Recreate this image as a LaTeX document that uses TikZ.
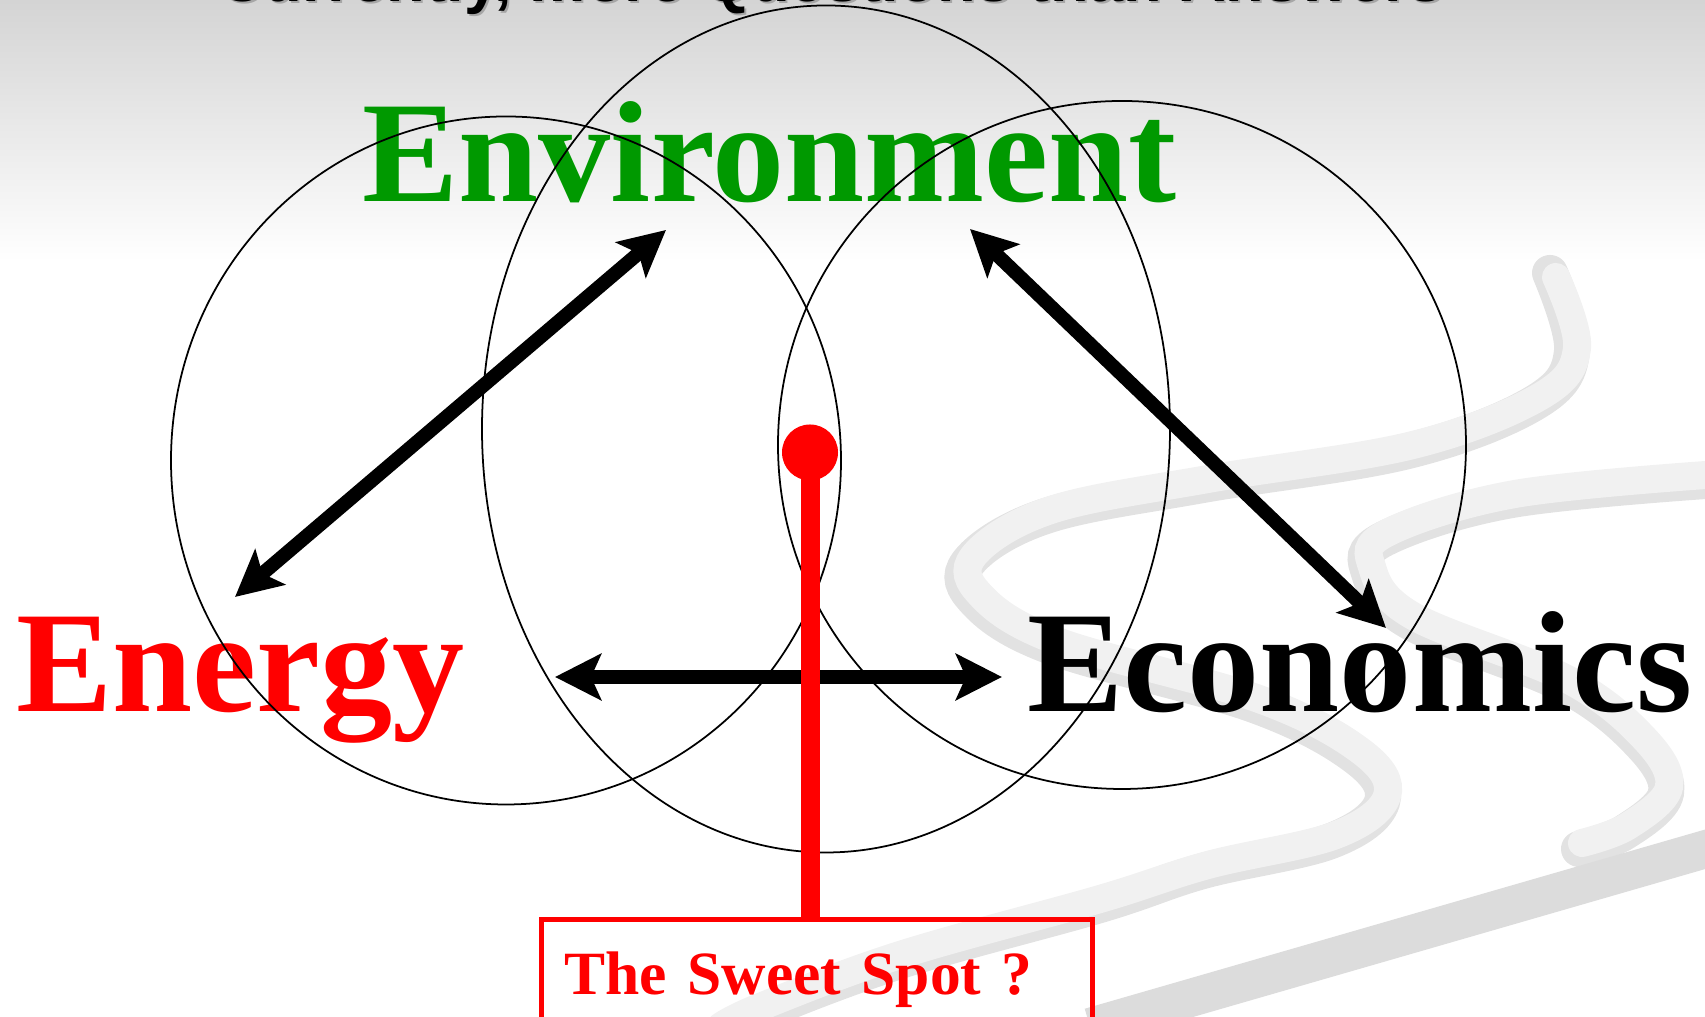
\documentclass[tikz,border=0pt]{standalone}
\usepackage{fontspec}
\setmainfont{Liberation Serif}
\newfontfamily\headfont{Liberation Sans}
\usetikzlibrary{arrows.meta,positioning}
\definecolor{leafgreen}{HTML}{009900}
\definecolor{hotred}{HTML}{FF0000}
\definecolor{topgray}{HTML}{D4D4D4}
\definecolor{swirlface}{HTML}{F1F1F1}
\definecolor{swirledge}{HTML}{E2E2E2}
\definecolor{swirlband}{HTML}{DCDCDC}

\begin{document}
\begin{tikzpicture}[
 ring/.style={draw=black,line width=0.5pt},
 link/.style={line width=0.14cm,{Stealth[length=0.46cm,width=0.46cm,inset=0.1cm]}-{Stealth[length=0.46cm,width=0.46cm,inset=0.1cm]}},
 word/.style={anchor=base west,inner sep=0pt,font=\bfseries\fontsize{41}{44}\selectfont},
 headline/.style={anchor=base,inner sep=0pt,font=\headfont\bfseries\fontsize{18}{20}\selectfont},
 ribbon/.style={line width=0.28cm,draw=swirlface,line cap=round},
 ribbonedge/.style={line width=0.36cm,draw=swirledge,line cap=round},
 spot/.style={circle,fill=hotred,minimum size=0.56cm,inner sep=0pt},
 stem/.style={draw=hotred,line width=0.19cm},
 sweetbox/.style={draw=hotred,line width=0.05cm,anchor=north west,text=hotred,font=\bfseries\fontsize{17.5}{20}\selectfont,
   inner xsep=0.235cm,inner ysep=0pt,text width=5.04cm,align=left,text height=0.745cm,text depth=0.6cm}]
\useasboundingbox (0,0) rectangle (17.05,10.17);
\clip (0,0) rectangle (17.05,10.17);
% slide backdrop
\shade[top color=topgray,bottom color=white] (0,7.55) rectangle (17.05,10.17);
\draw[ribbonedge] plot[smooth,tension=0.6] coordinates {(15.50,7.44) (15.72,6.66) (15.36,6.15) (14.08,5.66) (12.03,5.32) (10.49,5.02) (9.72,4.59) (9.72,4.20) (10.49,3.71) (12.54,3.12) (13.57,2.59) (13.82,2.15) (13.31,1.76) (12.03,1.46) (11.0,1.12) (9.0,0.56) (7.6,0.04) (7.2,-0.16)};
\draw[ribbon] plot[smooth,tension=0.6] coordinates {(15.56,7.40) (15.77,6.69) (15.41,6.21) (14.13,5.72) (12.08,5.38) (10.54,5.08) (9.77,4.65) (9.77,4.26) (10.54,3.77) (12.59,3.18) (13.62,2.65) (13.87,2.21) (13.36,1.82) (12.08,1.52) (11.0,1.18) (9.0,0.62) (7.6,0.1) (7.2,-0.1)};
\draw[ribbonedge] plot[smooth,tension=0.6] coordinates {(17.2,5.37) (15.12,5.17) (13.84,4.78) (13.69,4.44) (14.10,3.95) (15.64,3.32) (16.41,2.73) (16.66,2.24) (16.25,1.85) (15.79,1.68)};
\draw[ribbon] plot[smooth,tension=0.6] coordinates {(17.2,5.43) (15.15,5.23) (13.87,4.84) (13.72,4.50) (14.13,4.01) (15.67,3.38) (16.44,2.79) (16.69,2.30) (16.28,1.91) (15.82,1.74)};
\draw[swirlband,line width=0.38cm] (17.2,1.72) -- (10.9,-0.1);
% title, cut by the top edge
\node[headline,text=gray!70] (titleshade) at (8.33,10.13) {Currently, more Questions than Answers};
\node[headline] (title) at (8.31,10.15) {Currently, more Questions than Answers};
% the three words
\node[word,text=leafgreen] (environ) at (3.62,8.15) {Environment};
\node[word,text=hotred] (energy) at (0.16,3.05) {Energy};
\node[word,text=black] (econ) at (10.27,3.05) {Economics};
% overlapping circles
\draw[ring] (5.06,5.565) ellipse [x radius=3.35,y radius=3.44];
\draw[ring] (8.26,5.88) ellipse [x radius=3.44,y radius=4.235];
\draw[ring] (11.22,5.72) ellipse [x radius=3.44,y radius=3.44];
% arrow ends
\coordinate (en-up) at (2.35,4.20);
\coordinate (ev-left) at (6.66,7.87);
\coordinate (ev-right) at (9.70,7.88);
\coordinate (ec-up) at (13.86,3.89);
\coordinate (mid-left) at (5.55,3.40);
\coordinate (mid-right) at (10.02,3.40);
\draw[link] (en-up) -- (ev-left);
\draw[link] (ev-right) -- (ec-up);
\draw[link] (mid-left) -- (mid-right);
% sweet spot
\node[sweetbox] (sweet) at (5.385,0.995) {The Sweet Spot ?};
\node[spot] (dot) at (8.10,5.645) {};
\draw[stem] (dot.center) -- (dot.center |- sweet.north);
\end{tikzpicture}
\end{document}
